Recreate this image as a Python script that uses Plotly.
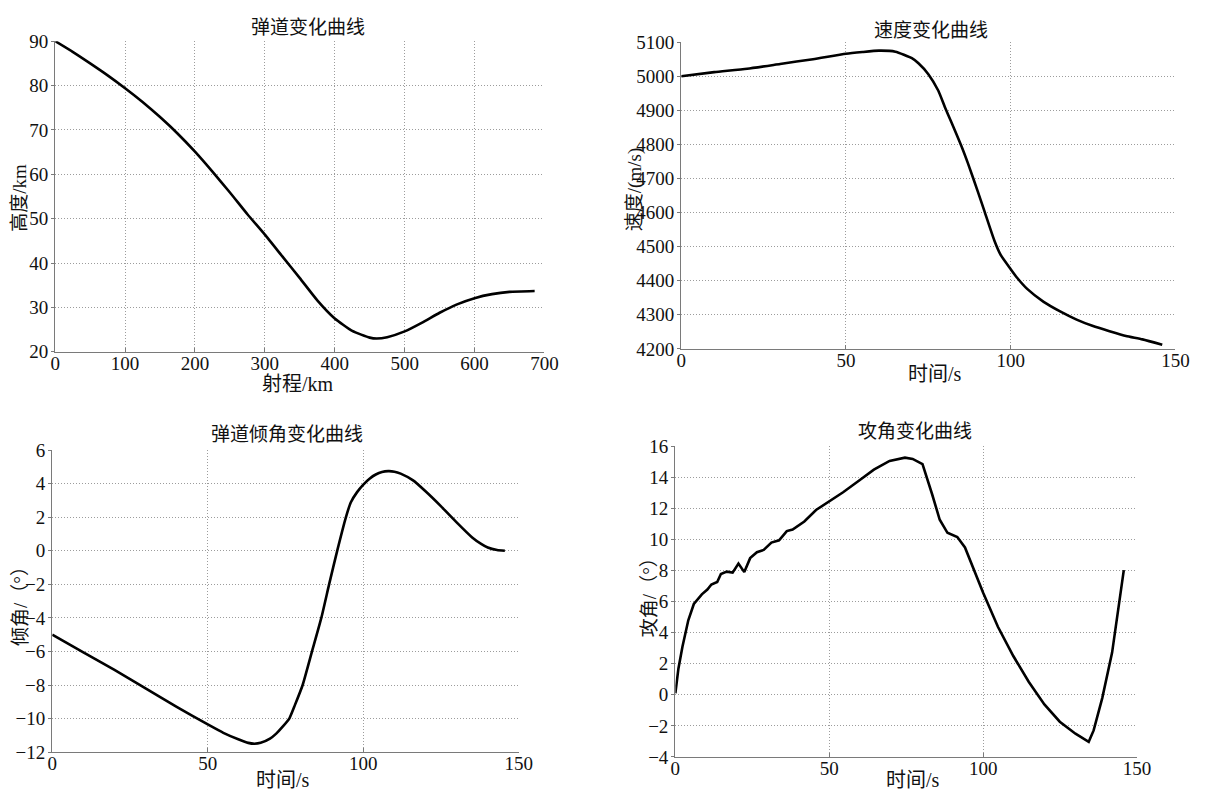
import plotly.graph_objects as go

# 弹道：射程(km) - 高度(km)
range_km = [0, 25, 50, 75, 100, 125, 150, 175, 200, 225, 250, 275, 300, 325,
            350, 375, 400, 425, 450, 460, 475, 500, 525, 550, 575, 600, 625,
            650, 686]
height_km = [90, 87.6, 85.0, 82.3, 79.4, 76.3, 72.9, 69.2, 65.1, 60.6, 55.9,
             51.0, 46.4, 41.5, 36.6, 31.6, 27.5, 24.7, 23.2, 23.0, 23.3, 24.6,
             26.6, 28.8, 30.7, 32.1, 33.0, 33.5, 33.7]

# 速度(m/s) - 时间(s)
t_speed = [0, 10, 20, 30, 40, 50, 55, 60, 65, 70, 72, 75, 78, 80, 82, 85, 87,
           90, 92, 95, 97, 100, 102, 105, 110, 115, 120, 125, 130, 135, 140,
           146]
speed = [5000, 5012, 5022, 5036, 5050, 5066, 5071, 5075, 5072, 5053, 5038,
         5006, 4958, 4910, 4865, 4796, 4745, 4662, 4605, 4519, 4475, 4434,
         4408, 4376, 4338, 4310, 4286, 4267, 4252, 4238, 4228, 4212]

# 弹道倾角(°) - 时间(s)
t_theta = [0, 10, 20, 30, 40, 50, 55, 60, 63, 65, 67, 70, 72, 74, 76.2, 78,
           80.5, 83.5, 86.5, 89, 91.6, 94.4, 96, 98, 100, 102, 104, 106, 108,
           110, 112, 116, 120, 125, 130, 135, 138, 140, 143, 145.5]
theta = [-5, -6.05, -7.1, -8.2, -9.3, -10.35, -10.85, -11.25, -11.45, -11.5,
         -11.45, -11.2, -10.9, -10.5, -10, -9.2, -8, -6, -4, -2, 0, 2, 2.9,
         3.5, 3.95, 4.3, 4.55, 4.7, 4.75, 4.72, 4.6, 4.2, 3.55, 2.65, 1.7,
         0.8, 0.4, 0.2, 0.05, 0]

# 攻角(°) - 时间(s)
t_alpha = [0, 1, 2.3, 4.2, 6, 8.6, 10.4, 11.7, 13.6, 14.8, 16.7, 18.6, 20.5,
           22.4, 24.3, 26.5, 28.7, 31.2, 33.7, 36.2, 38.1, 41.9, 45.7, 50,
           54.5, 59.5, 64.5, 69.6, 74.6, 77.1, 80.3, 83.4, 85.9, 88.4, 91.6,
           94.1, 97.2, 100, 104.8, 109.8, 114.8, 119.9, 124.9, 130, 134.3,
           135.9, 138.7, 141.9, 145.7]
alpha = [0.1, 1.7, 3.1, 4.8, 5.85, 6.47, 6.78, 7.1, 7.26, 7.78, 7.93, 7.87,
         8.45, 7.9, 8.8, 9.18, 9.33, 9.8, 9.95, 10.54, 10.64, 11.16, 11.9,
         12.45, 13.04, 13.77, 14.5, 15.06, 15.27, 15.19, 14.85, 12.93, 11.27,
         10.43, 10.16, 9.49, 7.93, 6.57, 4.38, 2.5, 0.84, -0.62, -1.73, -2.5,
         -3.02, -2.29, -0.21, 2.72, 8.03]

titles = ["弹道变化曲线", "速度变化曲线", "弹道倾角变化曲线", "攻角变化曲线"]
xlabels = ["射程/km", "时间/s", "时间/s", "时间/s"]
ylabels = ["高度/km", "速度/(m/s)", "倾角/（°）", "攻角/（°）"]

W, H = 1216, 804
SERIF = '"Liberation Serif", "Times New Roman", serif'
CJK = '"Liberation Serif", "Noto Sans CJK SC", serif'

# plot boxes in pixels: (left, right, top, bottom)
boxes = [(51, 548, 32, 351), (687, 1189, 33, 348),
         (48, 522, 452, 762), (681, 1150, 448, 767)]
xranges = [[0, 700], [0, 150], [0, 150], [0, 150]]
yranges = [[20, 90], [4200, 5100], [-12, 6], [-4, 16]]
xdtick = [100, 50, 50, 50]
ydtick = [10, 100, 2, 2]
smooth = [True, True, True, False]

# text placement (pixels)
title_pos = [(308, 18), (941, 21), (286, 436), (924, 433)]
xlabel_pos = [(298, 384), (945, 374), (282, 791), (922, 791)]
ylabel_pos = [(15, 193), (640, 185), (15, 607), (655, 598)]

series = [(range_km, height_km), (t_speed, speed), (t_theta, theta), (t_alpha, alpha)]

fig = go.Figure()
layout = dict(width=W, height=H, margin=dict(l=0, r=0, t=0, b=0),
              paper_bgcolor="white", plot_bgcolor="white", showlegend=False,
              font=dict(family=SERIF, size=16, color="#111"))
annotations = []


def label(text, pos, size, angle=0):
    return dict(text=text, x=pos[0] / W, y=1 - pos[1] / H, xref="paper", yref="paper",
                showarrow=False, textangle=angle, xanchor="center", yanchor="middle",
                font=dict(family=CJK, size=size, color="#111"))


for i, (box, (xs, ys)) in enumerate(zip(boxes, series)):
    n = "" if i == 0 else str(i + 1)
    l, r, t, b = box
    line = dict(color="black", width=2.6)
    if smooth[i]:
        line.update(shape="spline", smoothing=0.5)
    fig.add_trace(go.Scatter(x=xs, y=ys, mode="lines", line=line,
                             xaxis="x" + n, yaxis="y" + n))
    common = dict(showgrid=True, gridcolor="#9c9c9c", griddash="1px,2px", gridwidth=1,
                  zeroline=False, showline=True, linecolor="#7a7a7a", linewidth=1.4,
                  tickcolor="#7a7a7a", tickfont=dict(family=SERIF, size=19, color="#111"))
    layout["xaxis" + n] = dict(domain=[l / W, r / W], range=xranges[i], dtick=xdtick[i],
                               tick0=0, anchor="y" + n, ticks="inside", ticklen=4,
                               ticklabelstandoff=-6, **common)
    layout["yaxis" + n] = dict(domain=[1 - b / H, 1 - t / H], range=yranges[i], dtick=ydtick[i],
                               anchor="x" + n, ticks="outside", ticklen=3,
                               ticklabelstandoff=-1, **common)
    annotations.append(label(titles[i], title_pos[i], 19))
    annotations.append(label(xlabels[i], xlabel_pos[i], 20))
    annotations.append(label(ylabels[i], ylabel_pos[i], 19, angle=-90))

layout["annotations"] = annotations
fig.update_layout(**layout)
fig.write_html("out.html")
